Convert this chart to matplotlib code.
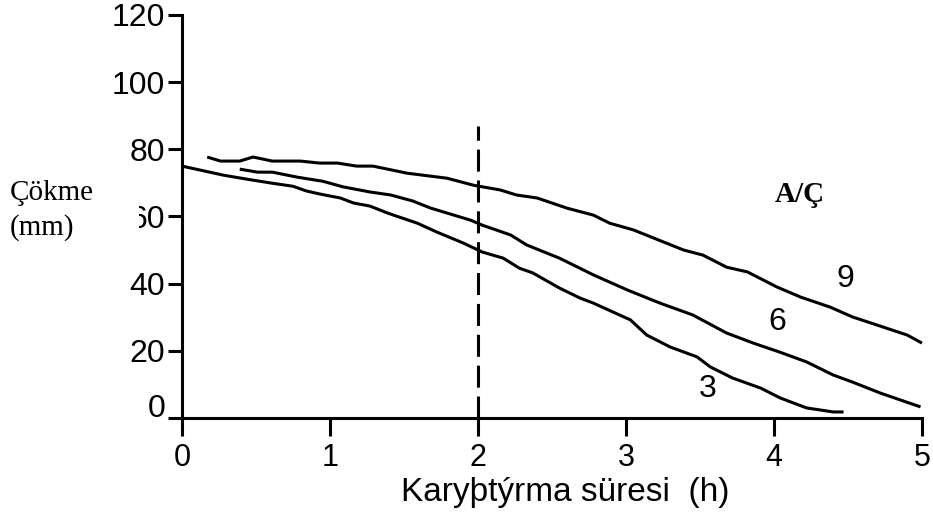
import matplotlib
matplotlib.use('Agg')
import matplotlib.pyplot as plt
from matplotlib.patches import Rectangle
from matplotlib.transforms import ScaledTranslation

# values
t3 = [0.00, 0.28, 0.44, 0.61, 0.75, 0.84, 0.93, 1.07, 1.16, 1.27, 1.39, 1.59, 1.72, 1.90, 2.03, 2.17,
      2.28, 2.37, 2.55, 2.69, 2.78, 3.03, 3.14, 3.30, 3.48, 3.57, 3.72, 3.91, 4.04, 4.22, 4.40, 4.47]
c3 = [75.0, 72.3, 71.1, 69.9, 69.0, 67.6, 66.7, 65.5, 64.0, 63.1, 61.0, 58.0, 55.4, 52.1, 49.4, 47.6,
      44.6, 43.2, 38.7, 35.7, 34.2, 29.2, 24.7, 21.1, 18.2, 15.2, 11.9, 8.9, 6.0, 3.0, 1.8, 1.8]

t6 = [0.39, 0.51, 0.61, 0.78, 0.95, 1.09, 1.27, 1.41, 1.56, 1.68, 1.95, 2.03, 2.22, 2.33, 2.55, 2.78,
      3.01, 3.23, 3.45, 3.68, 3.86, 4.04, 4.22, 4.40, 4.53, 4.72, 4.99]
c6 = [74.1, 73.2, 73.2, 71.7, 70.5, 68.8, 67.3, 66.4, 64.6, 62.5, 58.9, 57.4, 54.5, 51.5, 47.6, 42.6,
      38.1, 34.2, 30.7, 25.3, 22.3, 19.6, 16.7, 12.8, 10.7, 7.4, 3.3]

t9 = [0.17, 0.26, 0.39, 0.48, 0.61, 0.80, 0.93, 1.05, 1.18, 1.29, 1.52, 1.79, 1.97, 2.15, 2.26, 2.40,
      2.60, 2.78, 2.89, 3.05, 3.39, 3.52, 3.68, 3.82, 4.02, 4.18, 4.38, 4.53, 4.90, 5.00]
c9 = [77.7, 76.5, 76.5, 77.7, 76.5, 76.5, 75.9, 75.9, 75.0, 75.0, 72.9, 71.4, 69.3, 67.9, 66.4, 65.5,
      62.5, 60.4, 58.0, 56.0, 50.0, 48.5, 44.9, 43.5, 39.0, 36.0, 33.0, 30.1, 24.7, 22.3]

curve_labels = ['3', '6', '9']
label_pos = [(3.55, 8.5), (4.02, 28.5), (4.48, 41.5)]
x_ticks = [0, 1, 2, 3, 4, 5]
y_ticks = [0, 20, 40, 60, 80, 100, 120]
cut_time = 2
cut_top = 87

sans = ['Liberation Sans', 'DejaVu Sans']
serif = ['Liberation Serif', 'DejaVu Serif']

fig = plt.figure(figsize=(9.33, 5.13), dpi=100)
ax = fig.add_axes([0.1951, 0.1852, 0.7931, 0.7856])

lw = 2.2
for t, c in [(t3, c3), (t6, c6), (t9, c9)]:
    ax.plot(t, c, color='black', lw=lw, clip_on=False, solid_capstyle='butt')

ax.plot([cut_time, cut_time], [0, cut_top], color='black', lw=lw, ls=(0, (7.2, 2.9)), clip_on=False)

for lab, (x, y) in zip(curve_labels, label_pos):
    ax.text(x, y, lab, fontsize=23, family=sans, ha='center', va='center')

ax.set_xlim(0, 5)
ax.set_ylim(0, 120)
ax.set_xticks(x_ticks)
ax.set_yticks(y_ticks)
ax.spines['top'].set_visible(False)
ax.spines['right'].set_visible(False)
ax.spines['left'].set_linewidth(lw)
ax.spines['bottom'].set_linewidth(lw)
ax.tick_params(axis='x', direction='out', length=13, width=lw, pad=5, labelsize=22)
ax.tick_params(axis='y', direction='out', length=10, width=lw, pad=2, labelsize=23)
for lab in ax.get_xticklabels() + ax.get_yticklabels():
    lab.set_family(sans)

# the zero on the y axis sits a little higher in the original
zero = ax.get_yticklabels()[0]
zero.set_transform(zero.get_transform() + ScaledTranslation(0, 0.12, fig.dpi_scale_trans))

ax.text(0.518, -0.205, 'Karyþtýrma süresi  (h)', transform=ax.transAxes, fontsize=24,
        family=sans, ha='center', va='baseline')

# white box behind the y title hides part of the "60", as in the picture
fig.add_artist(Rectangle((0, 1 - 250 / 513), 139 / 933, 80 / 513, transform=fig.transFigure,
                         facecolor='white', edgecolor='none', zorder=3))
fig.text(10 / 933, 1 - 200 / 513, 'Çökme', fontsize=21, family=serif, ha='left', va='baseline', zorder=4)
fig.text(10 / 933, 1 - 235 / 513, '(mm)', fontsize=21, family=serif, ha='left', va='baseline', zorder=4)

fig.text(800 / 933, 1 - 202 / 513, 'A/Ç', fontsize=21, family=serif, fontweight='bold',
         ha='center', va='baseline')

fig.savefig('out.png', dpi=100)
